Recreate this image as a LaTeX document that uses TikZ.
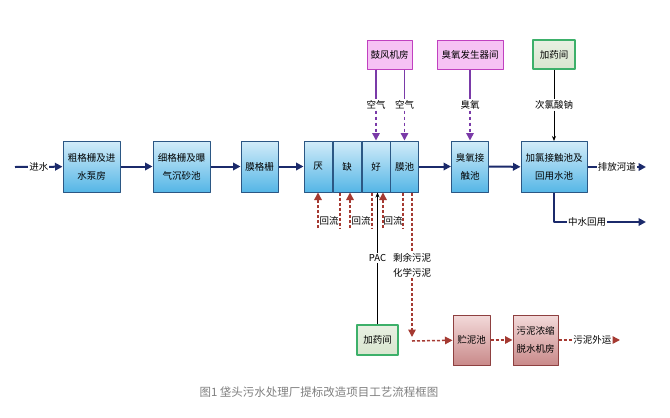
\documentclass[tikz,border=0pt]{standalone}
\usepackage{fontspec}
\setmainfont{Noto Sans CJK SC}
\usetikzlibrary{arrows.meta}
\definecolor{navy}{HTML}{1B2A6B}
\definecolor{boxedge}{HTML}{2B5784}
\definecolor{bluetop}{HTML}{D2ECF9}
\definecolor{bluebot}{HTML}{55B6E6}
\definecolor{pinkedge}{HTML}{C040C0}
\definecolor{pinkfill}{HTML}{F6C2F4}
\definecolor{greenedge}{HTML}{3DB06A}
\definecolor{greenfill}{HTML}{D9E6CF}
\definecolor{redtop}{HTML}{F3DADA}
\definecolor{redbot}{HTML}{C98A8A}
\definecolor{rededge}{HTML}{8E4040}
\definecolor{sludge}{HTML}{A53A32}
\definecolor{airc}{HTML}{7A3AA8}

\begin{document}
\begin{tikzpicture}[x=1pt,y=-1pt,>={Triangle[length=7.5pt,width=7.5pt]},line join=round,
  txt/.style={font=\fontsize{9.5}{18}\selectfont,align=center,inner sep=0pt},
  box/.style={txt,draw=boxedge,line width=1pt,top color=bluetop,bottom color=bluebot,minimum height=51pt},
  pinkbox/.style={txt,draw=pinkedge,line width=1pt,fill=pinkfill,minimum height=29pt},
  greenbox/.style={txt,draw=greenedge,line width=1.2pt,top color=greenfill!60,bottom color=greenfill,minimum height=29pt},
  redbox/.style={txt,draw=rededge,line width=1pt,top color=redtop,bottom color=redbot,minimum height=50pt},
  lbl/.style={font=\fontsize{9.5}{15}\selectfont,align=center,fill=white,inner sep=1pt},
  flow/.style={draw=navy,line width=2pt},
  air/.style={draw=airc,line width=1.5pt},
  hl/.style={draw=sludge,line width=1.5pt,dash pattern=on 3pt off 2pt}]
\useasboundingbox[fill=white] (0,0) rectangle (670,418);
% main line
\coordinate (in) at (15,167);
\node[box,minimum width=57pt] (cg) at (91.5,166.5) {粗格栅及进\\水泵房};
\node[box,minimum width=57pt] (xg) at (181.5,166.5) {细格栅及曝\\气沉砂池};
\node[box,minimum width=37pt] (mg) at (259.5,166.5) {膜格栅};
\node[box,minimum width=28pt] (yan) at (318,166.5) {厌};
\node[box,minimum width=28pt] (que) at (347,166.5) {缺};
\node[box,minimum width=28pt] (hao) at (376,166.5) {好};
\node[box,minimum width=28pt] (mc) at (404.5,166.5) {膜池};
\node[box,minimum width=37pt] (cy) at (470,166.5) {臭氧接\\触池};
\node[box,minimum width=66pt] (jl) at (554,167) {加氯接触池及\\回用水池};
\coordinate (pf) at (646,167);
\coordinate (zs) at (646,222);
\draw[flow,->] (in) -- node[lbl]{进水} (cg);
\draw[flow,->] (cg) -- (xg);
\draw[flow,->] (xg) -- (mg);
\draw[flow,->] (mg) -- (yan);
\draw[flow,->] (mc) -- (cy);
\draw[flow,->] (cy) -- (jl);
\draw[flow,->] (jl) -- node[lbl]{排放河道} (pf);
\draw[flow,->] (jl.south) |- node[lbl,pos=0.68]{中水回用} (zs);
% top feeds
\node[pinkbox,minimum width=45pt] (gf) at (389.5,54.5) {鼓风机房};
\node[pinkbox,minimum width=66pt] (cf) at (470,54.5) {臭氧发生器间};
\node[greenbox,minimum width=42pt] (jy1) at (554,54.5) {加药间};
\node[lbl] (kq1) at (376,105) {空气};
\node[lbl] (kq2) at (404.5,105) {空气};
\node[lbl] (cyq) at (470,105) {臭氧};
\node[lbl] (cl) at (554,105) {次氯酸钠};
\draw[air] (gf.south -| kq1) -- (kq1);
\draw[air,dashed,->] (kq1) -- (kq1 |- hao.north);
\draw[air] (gf.south -| kq2) -- (kq2);
\draw[air,dashed,->] (kq2) -- (kq2 |- mc.north);
\draw[air] (cf) -- (cyq);
\draw[air,dashed,->] (cyq) -- (cy);
\draw[line width=0.8pt] (jy1) -- (cl);
\draw[line width=0.8pt,-{Stealth[length=5pt,width=4pt]}] (cl) -- (jl);
% return flow
\coordinate (r1a) at (318,228);
\coordinate (r1b) at (340,228);
\coordinate (r2a) at (350,228);
\coordinate (r2b) at (372,228);
\coordinate (r3a) at (383,228);
\coordinate (r3b) at (403,228);
\draw[hl,->] (r1a) -- (yan.south);
\draw[hl] (que.south -| r1b) -- (r1b);
\draw[hl,->] (r2a) -- (r2a |- que.south);
\draw[hl] (hao.south -| r2b) -- (r2b);
\draw[hl,->] (r3a) -- (r3a |- hao.south);
\draw[hl] (mc.south -| r3b) -- (r3b);
\node[txt] (h1) at (329,221) {回流};
\node[txt] (h2) at (361,221) {回流};
\node[txt] (h3) at (393,221) {回流};
% sludge line
\node[greenbox,minimum width=41pt,minimum height=30pt] (jy2) at (377.5,340) {加药间};
\node[lbl] (pac) at (377.5,258) {PAC};
\node[redbox,minimum width=37pt] (zn) at (471.5,340) {贮泥池};
\node[redbox,minimum width=45pt] (ws) at (535.5,340) {污泥浓缩\\脱水机房};
\node[lbl] (wn) at (412,265) {剩余污泥\\化学污泥};
\coordinate (sd) at (412,341);
\coordinate (wy) at (620,340);
\draw[line width=0.8pt] (jy2) -- (pac);
\draw[line width=0.8pt,-{Stealth[length=5pt,width=4pt]}] (pac) -- (pac |- hao.south);
\draw[hl] (mc.south -| wn) -- (wn);
\draw[hl,->,shorten >=4pt] (wn) -- (sd);
\draw[hl,->] (sd) -- (zn);
\draw[hl,->] (zn) -- (ws);
\draw[hl,->] (ws) -- node[lbl,pos=0.55]{污泥外运} (wy);
\node[font=\fontsize{11.5}{14}\selectfont,text=gray] (cap) at (319,392) {图1 垡头污水处理厂提标改造项目工艺流程框图};
\end{tikzpicture}
\end{document}
